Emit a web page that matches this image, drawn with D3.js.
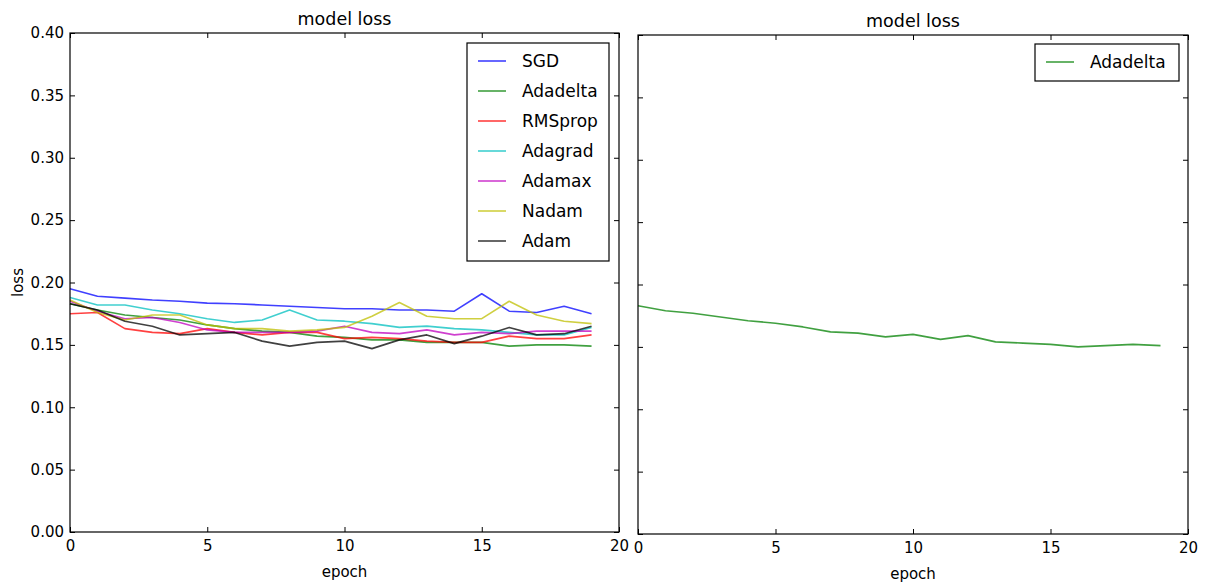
<!DOCTYPE html>
<html>
<head>
<meta charset="utf-8">
<script src="https://cdn.jsdelivr.net/npm/d3@7/dist/d3.min.js"></script>
<style>
  body { margin: 0; background: #fff; }
  svg { display: block; font-family: "DejaVu Sans", sans-serif; }
</style>
</head>
<body>
<svg id="chart" width="1207" height="584"></svg>
<script>
// Training loss per epoch for each optimizer
const epochs = d3.range(0, 20);
const optimizers = ["SGD", "Adadelta", "RMSprop", "Adagrad", "Adamax", "Nadam", "Adam"];
const colors = ["#0000ff", "#008000", "#ff0000", "#00bfbf", "#bf00bf", "#bfbf00", "#000000"];

const sgd      = [0.195, 0.189, 0.1875, 0.186, 0.185, 0.1835, 0.183, 0.182, 0.181, 0.180, 0.179, 0.179, 0.178, 0.178, 0.177, 0.191, 0.177, 0.176, 0.181, 0.175];
const adadelta = [0.183, 0.178, 0.174, 0.172, 0.170, 0.166, 0.163, 0.161, 0.160, 0.157, 0.156, 0.154, 0.154, 0.152, 0.152, 0.152, 0.149, 0.150, 0.150, 0.149];
const rmsprop  = [0.175, 0.176, 0.163, 0.160, 0.159, 0.163, 0.160, 0.158, 0.160, 0.160, 0.155, 0.156, 0.155, 0.153, 0.152, 0.152, 0.157, 0.155, 0.155, 0.158];
const adagrad  = [0.188, 0.182, 0.182, 0.178, 0.175, 0.171, 0.168, 0.170, 0.178, 0.170, 0.169, 0.167, 0.164, 0.165, 0.163, 0.162, 0.160, 0.158, 0.158, 0.164];
const adamax   = [0.185, 0.177, 0.171, 0.172, 0.168, 0.162, 0.160, 0.160, 0.160, 0.161, 0.165, 0.160, 0.159, 0.162, 0.158, 0.160, 0.159, 0.161, 0.161, 0.161];
const nadam    = [0.186, 0.176, 0.170, 0.174, 0.174, 0.166, 0.163, 0.163, 0.161, 0.162, 0.164, 0.173, 0.184, 0.173, 0.171, 0.171, 0.185, 0.174, 0.169, 0.167];
const adam     = [0.183, 0.178, 0.169, 0.165, 0.158, 0.159, 0.160, 0.153, 0.149, 0.152, 0.153, 0.147, 0.154, 0.158, 0.151, 0.157, 0.164, 0.158, 0.159, 0.165];
const seriesValues = [sgd, adadelta, rmsprop, adagrad, adamax, nadam, adam];

// Separate Adadelta run shown on its own
const adadeltaSolo = [0.183, 0.179, 0.177, 0.174, 0.171, 0.169, 0.166, 0.162, 0.161, 0.158, 0.160, 0.156, 0.159, 0.154, 0.153, 0.152, 0.150, 0.151, 0.152, 0.151];

const xTicks = [0, 5, 10, 15, 20];
const yTicks = [0.00, 0.05, 0.10, 0.15, 0.20, 0.25, 0.30, 0.35, 0.40];

const svg = d3.select("#chart");
const FONT = 15;

function panel(box, showYLabels, series, legendBox) {
  const g = svg.append("g");
  const x = d3.scaleLinear().domain([0, 20]).range([box.x0, box.x1]);
  const y = d3.scaleLinear().domain([0, 0.4]).range([box.y1, box.y0]);
  const tick = 5;

  // title
  g.append("text").attr("x", (box.x0 + box.x1) / 2).attr("y", box.y0 - 8)
    .attr("text-anchor", "middle").attr("font-size", 17.5).text("model loss");

  // inward ticks on all four sides
  const bottom = d3.axisBottom(x).tickValues(xTicks).tickSize(-tick).tickPadding(8).tickFormat(d3.format("d"));
  const top = d3.axisTop(x).tickValues(xTicks).tickSize(-tick).tickFormat("");
  const left = d3.axisLeft(y).tickValues(yTicks).tickSize(-tick).tickPadding(6)
    .tickFormat(showYLabels ? d3.format(".2f") : "");
  const right = d3.axisRight(y).tickValues(yTicks).tickSize(-tick).tickFormat("");

  [[bottom, `translate(0,${box.y1})`], [top, `translate(0,${box.y0})`],
   [left, `translate(${box.x0},0)`], [right, `translate(${box.x1},0)`]].forEach(([ax, tr]) => {
    const a = g.append("g").attr("transform", tr).call(ax);
    a.select(".domain").remove();
    a.selectAll("line").attr("stroke", "#000").attr("stroke-width", 1);
    a.selectAll("text").attr("font-size", FONT).attr("fill", "#000").attr("font-family", "DejaVu Sans, sans-serif");
  });

  // series lines
  const line = d3.line().x((d, i) => x(epochs[i])).y(d => y(d));
  series.forEach(s => {
    g.append("path").datum(s.values).attr("d", line)
      .attr("fill", "none").attr("stroke", s.color).attr("stroke-width", 1.6)
      .attr("stroke-opacity", 0.75).attr("stroke-linejoin", "round");
  });

  // frame
  g.append("rect").attr("x", box.x0).attr("y", box.y0)
    .attr("width", box.x1 - box.x0).attr("height", box.y1 - box.y0)
    .attr("fill", "none").attr("stroke", "#000").attr("stroke-width", 1.2);

  // axis labels
  g.append("text").attr("x", (box.x0 + box.x1) / 2).attr("y", box.y1 + 45)
    .attr("text-anchor", "middle").attr("font-size", FONT).text("epoch");
  if (showYLabels) {
    g.append("text").attr("transform", `translate(${box.x0 - 47},${(box.y0 + box.y1) / 2}) rotate(-90)`)
      .attr("text-anchor", "middle").attr("font-size", FONT).text("loss");
  }

  // legend
  const lg = g.append("g");
  lg.append("rect").attr("x", legendBox.x).attr("y", legendBox.y)
    .attr("width", legendBox.w).attr("height", legendBox.h)
    .attr("fill", "#fff").attr("stroke", "#000").attr("stroke-width", 1.2);
  series.forEach((s, i) => {
    const cy = legendBox.y + 18 + i * 30;
    lg.append("line").attr("x1", legendBox.x + 11).attr("x2", legendBox.x + 39)
      .attr("y1", cy).attr("y2", cy).attr("stroke", s.color)
      .attr("stroke-width", 1.6).attr("stroke-opacity", 0.75);
    lg.append("text").attr("x", legendBox.x + 55).attr("y", cy + 6)
      .attr("font-size", 17).text(s.name);
  });
}

panel({ x0: 70, x1: 619, y0: 33, y1: 532 }, true,
  optimizers.map((n, i) => ({ name: n, color: colors[i], values: seriesValues[i] })),
  { x: 467, y: 43, w: 142, h: 218 });

panel({ x0: 638, x1: 1188, y0: 35, y1: 534 }, false,
  [{ name: "Adadelta", color: colors[1], values: adadeltaSolo }],
  { x: 1035, y: 44, w: 144, h: 37 });
</script>
</body>
</html>
